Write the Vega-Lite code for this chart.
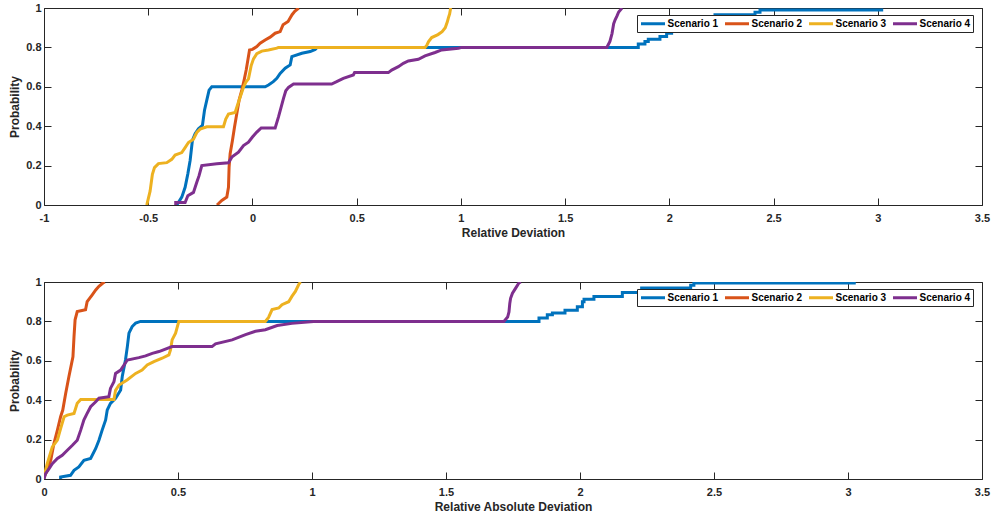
{
  "$schema": "https://vega.github.io/schema/vega-lite/v6.json",
  "padding": {"left": 7, "top": 1, "right": 0, "bottom": 0},
  "bounds": "flush",
  "spacing": 77,
  "datasets": {
    "top": [
      {"s":"Scenario 1","x":-0.363,"p":0},{"s":"Scenario 1","x":-0.355,"p":0.013},{"s":"Scenario 1","x":-0.339,"p":0.04},{"s":"Scenario 1","x":-0.323,"p":0.09},{"s":"Scenario 1","x":-0.31,"p":0.158},{"s":"Scenario 1","x":-0.299,"p":0.226},{"s":"Scenario 1","x":-0.288,"p":0.328},{"s":"Scenario 1","x":-0.275,"p":0.362},{"s":"Scenario 1","x":-0.259,"p":0.387},{"s":"Scenario 1","x":-0.24,"p":0.404},{"s":"Scenario 1","x":-0.23,"p":0.481},{"s":"Scenario 1","x":-0.219,"p":0.532},{"s":"Scenario 1","x":-0.208,"p":0.583},{"s":"Scenario 1","x":-0.195,"p":0.6},{"s":"Scenario 1","x":0.061,"p":0.6},{"s":"Scenario 1","x":0.077,"p":0.609},{"s":"Scenario 1","x":0.1,"p":0.626},{"s":"Scenario 1","x":0.117,"p":0.643},{"s":"Scenario 1","x":0.133,"p":0.668},{"s":"Scenario 1","x":0.157,"p":0.694},{"s":"Scenario 1","x":0.181,"p":0.711},{"s":"Scenario 1","x":0.189,"p":0.753},{"s":"Scenario 1","x":0.237,"p":0.77},{"s":"Scenario 1","x":0.277,"p":0.779},{"s":"Scenario 1","x":0.301,"p":0.79},{"s":"Scenario 1","x":0.31,"p":0.8},{"s":"Scenario 1","x":1.851,"p":0.8},{"s":"Scenario 1","x":1.851,"p":0.817},{"s":"Scenario 1","x":1.883,"p":0.817},{"s":"Scenario 1","x":1.883,"p":0.83},{"s":"Scenario 1","x":1.899,"p":0.83},{"s":"Scenario 1","x":1.899,"p":0.842},{"s":"Scenario 1","x":1.955,"p":0.842},{"s":"Scenario 1","x":1.955,"p":0.855},{"s":"Scenario 1","x":1.987,"p":0.855},{"s":"Scenario 1","x":1.987,"p":0.872},{"s":"Scenario 1","x":2.011,"p":0.872},{"s":"Scenario 1","x":2.011,"p":0.89},{"s":"Scenario 1","x":2.05,"p":0.89},{"s":"Scenario 1","x":2.05,"p":0.91},{"s":"Scenario 1","x":2.12,"p":0.91},{"s":"Scenario 1","x":2.12,"p":0.94},{"s":"Scenario 1","x":2.219,"p":0.94},{"s":"Scenario 1","x":2.219,"p":0.966},{"s":"Scenario 1","x":2.411,"p":0.966},{"s":"Scenario 1","x":2.411,"p":0.978},{"s":"Scenario 1","x":2.435,"p":0.978},{"s":"Scenario 1","x":2.435,"p":0.99},{"s":"Scenario 1","x":3.026,"p":0.99},
      {"s":"Scenario 2","x":-0.17,"p":0},{"s":"Scenario 2","x":-0.16,"p":0.01},{"s":"Scenario 2","x":-0.147,"p":0.023},{"s":"Scenario 2","x":-0.123,"p":0.04},{"s":"Scenario 2","x":-0.115,"p":0.09},{"s":"Scenario 2","x":-0.112,"p":0.192},{"s":"Scenario 2","x":-0.107,"p":0.26},{"s":"Scenario 2","x":-0.096,"p":0.328},{"s":"Scenario 2","x":-0.086,"p":0.396},{"s":"Scenario 2","x":-0.075,"p":0.464},{"s":"Scenario 2","x":-0.064,"p":0.532},{"s":"Scenario 2","x":-0.051,"p":0.583},{"s":"Scenario 2","x":-0.04,"p":0.634},{"s":"Scenario 2","x":-0.03,"p":0.685},{"s":"Scenario 2","x":-0.022,"p":0.736},{"s":"Scenario 2","x":-0.014,"p":0.787},{"s":"Scenario 2","x":0.0,"p":0.79},{"s":"Scenario 2","x":0.021,"p":0.804},{"s":"Scenario 2","x":0.037,"p":0.821},{"s":"Scenario 2","x":0.061,"p":0.838},{"s":"Scenario 2","x":0.085,"p":0.852},{"s":"Scenario 2","x":0.109,"p":0.872},{"s":"Scenario 2","x":0.133,"p":0.88},{"s":"Scenario 2","x":0.147,"p":0.915},{"s":"Scenario 2","x":0.171,"p":0.932},{"s":"Scenario 2","x":0.19,"p":0.966},{"s":"Scenario 2","x":0.203,"p":0.983},{"s":"Scenario 2","x":0.222,"p":1.0},
      {"s":"Scenario 3","x":-0.507,"p":0},{"s":"Scenario 3","x":-0.491,"p":0.07},{"s":"Scenario 3","x":-0.48,"p":0.156},{"s":"Scenario 3","x":-0.47,"p":0.19},{"s":"Scenario 3","x":-0.451,"p":0.21},{"s":"Scenario 3","x":-0.411,"p":0.215},{"s":"Scenario 3","x":-0.387,"p":0.232},{"s":"Scenario 3","x":-0.371,"p":0.254},{"s":"Scenario 3","x":-0.339,"p":0.266},{"s":"Scenario 3","x":-0.323,"p":0.291},{"s":"Scenario 3","x":-0.307,"p":0.317},{"s":"Scenario 3","x":-0.283,"p":0.334},{"s":"Scenario 3","x":-0.267,"p":0.368},{"s":"Scenario 3","x":-0.251,"p":0.385},{"s":"Scenario 3","x":-0.219,"p":0.397},{"s":"Scenario 3","x":-0.139,"p":0.397},{"s":"Scenario 3","x":-0.128,"p":0.436},{"s":"Scenario 3","x":-0.115,"p":0.462},{"s":"Scenario 3","x":-0.083,"p":0.47},{"s":"Scenario 3","x":-0.07,"p":0.513},{"s":"Scenario 3","x":-0.059,"p":0.547},{"s":"Scenario 3","x":-0.043,"p":0.598},{"s":"Scenario 3","x":-0.032,"p":0.623},{"s":"Scenario 3","x":-0.019,"p":0.64},{"s":"Scenario 3","x":-0.006,"p":0.708},{"s":"Scenario 3","x":0.005,"p":0.742},{"s":"Scenario 3","x":0.021,"p":0.768},{"s":"Scenario 3","x":0.045,"p":0.781},{"s":"Scenario 3","x":0.077,"p":0.787},{"s":"Scenario 3","x":0.117,"p":0.796},{"s":"Scenario 3","x":0.125,"p":0.8},{"s":"Scenario 3","x":0.828,"p":0.8},{"s":"Scenario 3","x":0.836,"p":0.81},{"s":"Scenario 3","x":0.845,"p":0.83},{"s":"Scenario 3","x":0.86,"p":0.85},{"s":"Scenario 3","x":0.89,"p":0.865},{"s":"Scenario 3","x":0.91,"p":0.88},{"s":"Scenario 3","x":0.925,"p":0.9},{"s":"Scenario 3","x":0.935,"p":0.93},{"s":"Scenario 3","x":0.94,"p":0.95},{"s":"Scenario 3","x":0.946,"p":0.97},{"s":"Scenario 3","x":0.951,"p":1.0},
      {"s":"Scenario 4","x":-0.368,"p":0},{"s":"Scenario 4","x":-0.368,"p":0.013},{"s":"Scenario 4","x":-0.323,"p":0.013},{"s":"Scenario 4","x":-0.31,"p":0.047},{"s":"Scenario 4","x":-0.283,"p":0.064},{"s":"Scenario 4","x":-0.267,"p":0.115},{"s":"Scenario 4","x":-0.256,"p":0.149},{"s":"Scenario 4","x":-0.243,"p":0.2},{"s":"Scenario 4","x":-0.171,"p":0.209},{"s":"Scenario 4","x":-0.115,"p":0.214},{"s":"Scenario 4","x":-0.099,"p":0.243},{"s":"Scenario 4","x":-0.067,"p":0.268},{"s":"Scenario 4","x":-0.043,"p":0.302},{"s":"Scenario 4","x":-0.019,"p":0.319},{"s":"Scenario 4","x":0.0,"p":0.345},{"s":"Scenario 4","x":0.021,"p":0.37},{"s":"Scenario 4","x":0.042,"p":0.391},{"s":"Scenario 4","x":0.109,"p":0.391},{"s":"Scenario 4","x":0.125,"p":0.447},{"s":"Scenario 4","x":0.138,"p":0.498},{"s":"Scenario 4","x":0.149,"p":0.541},{"s":"Scenario 4","x":0.16,"p":0.58},{"s":"Scenario 4","x":0.173,"p":0.597},{"s":"Scenario 4","x":0.197,"p":0.614},{"s":"Scenario 4","x":0.38,"p":0.614},{"s":"Scenario 4","x":0.404,"p":0.626},{"s":"Scenario 4","x":0.436,"p":0.643},{"s":"Scenario 4","x":0.484,"p":0.66},{"s":"Scenario 4","x":0.49,"p":0.672},{"s":"Scenario 4","x":0.652,"p":0.672},{"s":"Scenario 4","x":0.668,"p":0.685},{"s":"Scenario 4","x":0.7,"p":0.702},{"s":"Scenario 4","x":0.724,"p":0.719},{"s":"Scenario 4","x":0.748,"p":0.731},{"s":"Scenario 4","x":0.796,"p":0.74},{"s":"Scenario 4","x":0.828,"p":0.757},{"s":"Scenario 4","x":0.876,"p":0.774},{"s":"Scenario 4","x":0.908,"p":0.787},{"s":"Scenario 4","x":0.988,"p":0.796},{"s":"Scenario 4","x":1.004,"p":0.8},{"s":"Scenario 4","x":1.7,"p":0.8},{"s":"Scenario 4","x":1.705,"p":0.81},{"s":"Scenario 4","x":1.715,"p":0.83},{"s":"Scenario 4","x":1.725,"p":0.87},{"s":"Scenario 4","x":1.733,"p":0.92},{"s":"Scenario 4","x":1.74,"p":0.94},{"s":"Scenario 4","x":1.749,"p":0.96},{"s":"Scenario 4","x":1.757,"p":0.98},{"s":"Scenario 4","x":1.773,"p":1.0}
    ],
    "bot": [
      {"s":"Scenario 1","x":0.062,"p":0},{"s":"Scenario 1","x":0.062,"p":0.01},{"s":"Scenario 1","x":0.099,"p":0.019},{"s":"Scenario 1","x":0.112,"p":0.044},{"s":"Scenario 1","x":0.13,"p":0.061},{"s":"Scenario 1","x":0.149,"p":0.095},{"s":"Scenario 1","x":0.174,"p":0.104},{"s":"Scenario 1","x":0.193,"p":0.155},{"s":"Scenario 1","x":0.205,"p":0.197},{"s":"Scenario 1","x":0.217,"p":0.248},{"s":"Scenario 1","x":0.23,"p":0.3},{"s":"Scenario 1","x":0.236,"p":0.35},{"s":"Scenario 1","x":0.248,"p":0.384},{"s":"Scenario 1","x":0.267,"p":0.41},{"s":"Scenario 1","x":0.286,"p":0.452},{"s":"Scenario 1","x":0.292,"p":0.52},{"s":"Scenario 1","x":0.304,"p":0.604},{"s":"Scenario 1","x":0.311,"p":0.672},{"s":"Scenario 1","x":0.317,"p":0.74},{"s":"Scenario 1","x":0.329,"p":0.774},{"s":"Scenario 1","x":0.342,"p":0.791},{"s":"Scenario 1","x":0.36,"p":0.8},{"s":"Scenario 1","x":1.847,"p":0.8},{"s":"Scenario 1","x":1.847,"p":0.817},{"s":"Scenario 1","x":1.878,"p":0.817},{"s":"Scenario 1","x":1.878,"p":0.834},{"s":"Scenario 1","x":1.897,"p":0.834},{"s":"Scenario 1","x":1.897,"p":0.843},{"s":"Scenario 1","x":1.944,"p":0.843},{"s":"Scenario 1","x":1.944,"p":0.857},{"s":"Scenario 1","x":1.99,"p":0.857},{"s":"Scenario 1","x":1.99,"p":0.874},{"s":"Scenario 1","x":2.009,"p":0.874},{"s":"Scenario 1","x":2.009,"p":0.9},{"s":"Scenario 1","x":2.015,"p":0.9},{"s":"Scenario 1","x":2.015,"p":0.912},{"s":"Scenario 1","x":2.052,"p":0.912},{"s":"Scenario 1","x":2.052,"p":0.926},{"s":"Scenario 1","x":2.158,"p":0.926},{"s":"Scenario 1","x":2.158,"p":0.947},{"s":"Scenario 1","x":2.23,"p":0.947},{"s":"Scenario 1","x":2.23,"p":0.969},{"s":"Scenario 1","x":2.413,"p":0.969},{"s":"Scenario 1","x":2.413,"p":0.983},{"s":"Scenario 1","x":2.425,"p":0.983},{"s":"Scenario 1","x":2.425,"p":0.995},{"s":"Scenario 1","x":3.029,"p":0.995},
      {"s":"Scenario 2","x":0,"p":0},{"s":"Scenario 2","x":0,"p":0.01},{"s":"Scenario 2","x":0.012,"p":0.044},{"s":"Scenario 2","x":0.025,"p":0.095},{"s":"Scenario 2","x":0.037,"p":0.18},{"s":"Scenario 2","x":0.05,"p":0.248},{"s":"Scenario 2","x":0.062,"p":0.316},{"s":"Scenario 2","x":0.07,"p":0.35},{"s":"Scenario 2","x":0.081,"p":0.435},{"s":"Scenario 2","x":0.093,"p":0.52},{"s":"Scenario 2","x":0.103,"p":0.587},{"s":"Scenario 2","x":0.108,"p":0.62},{"s":"Scenario 2","x":0.112,"p":0.723},{"s":"Scenario 2","x":0.116,"p":0.808},{"s":"Scenario 2","x":0.124,"p":0.85},{"s":"Scenario 2","x":0.155,"p":0.859},{"s":"Scenario 2","x":0.161,"p":0.9},{"s":"Scenario 2","x":0.18,"p":0.935},{"s":"Scenario 2","x":0.193,"p":0.96},{"s":"Scenario 2","x":0.205,"p":0.978},{"s":"Scenario 2","x":0.22,"p":0.995},{"s":"Scenario 2","x":0.227,"p":1.0},
      {"s":"Scenario 3","x":0,"p":0.01},{"s":"Scenario 3","x":0.012,"p":0.078},{"s":"Scenario 3","x":0.031,"p":0.163},{"s":"Scenario 3","x":0.05,"p":0.197},{"s":"Scenario 3","x":0.062,"p":0.256},{"s":"Scenario 3","x":0.075,"p":0.316},{"s":"Scenario 3","x":0.087,"p":0.324},{"s":"Scenario 3","x":0.112,"p":0.333},{"s":"Scenario 3","x":0.124,"p":0.384},{"s":"Scenario 3","x":0.137,"p":0.404},{"s":"Scenario 3","x":0.261,"p":0.404},{"s":"Scenario 3","x":0.267,"p":0.45},{"s":"Scenario 3","x":0.28,"p":0.477},{"s":"Scenario 3","x":0.31,"p":0.503},{"s":"Scenario 3","x":0.342,"p":0.536},{"s":"Scenario 3","x":0.366,"p":0.553},{"s":"Scenario 3","x":0.385,"p":0.579},{"s":"Scenario 3","x":0.41,"p":0.596},{"s":"Scenario 3","x":0.441,"p":0.613},{"s":"Scenario 3","x":0.466,"p":0.63},{"s":"Scenario 3","x":0.472,"p":0.655},{"s":"Scenario 3","x":0.478,"p":0.706},{"s":"Scenario 3","x":0.491,"p":0.74},{"s":"Scenario 3","x":0.503,"p":0.8},{"s":"Scenario 3","x":0.826,"p":0.8},{"s":"Scenario 3","x":0.838,"p":0.82},{"s":"Scenario 3","x":0.851,"p":0.86},{"s":"Scenario 3","x":0.876,"p":0.868},{"s":"Scenario 3","x":0.888,"p":0.885},{"s":"Scenario 3","x":0.913,"p":0.9},{"s":"Scenario 3","x":0.925,"p":0.927},{"s":"Scenario 3","x":0.938,"p":0.952},{"s":"Scenario 3","x":0.95,"p":0.986},{"s":"Scenario 3","x":0.957,"p":1.0},
      {"s":"Scenario 4","x":0,"p":0},{"s":"Scenario 4","x":0.006,"p":0.027},{"s":"Scenario 4","x":0.019,"p":0.053},{"s":"Scenario 4","x":0.031,"p":0.078},{"s":"Scenario 4","x":0.05,"p":0.104},{"s":"Scenario 4","x":0.068,"p":0.12},{"s":"Scenario 4","x":0.087,"p":0.146},{"s":"Scenario 4","x":0.106,"p":0.171},{"s":"Scenario 4","x":0.124,"p":0.197},{"s":"Scenario 4","x":0.137,"p":0.248},{"s":"Scenario 4","x":0.149,"p":0.3},{"s":"Scenario 4","x":0.161,"p":0.333},{"s":"Scenario 4","x":0.174,"p":0.367},{"s":"Scenario 4","x":0.193,"p":0.392},{"s":"Scenario 4","x":0.205,"p":0.41},{"s":"Scenario 4","x":0.242,"p":0.418},{"s":"Scenario 4","x":0.248,"p":0.46},{"s":"Scenario 4","x":0.261,"p":0.494},{"s":"Scenario 4","x":0.267,"p":0.536},{"s":"Scenario 4","x":0.286,"p":0.553},{"s":"Scenario 4","x":0.311,"p":0.604},{"s":"Scenario 4","x":0.354,"p":0.616},{"s":"Scenario 4","x":0.379,"p":0.625},{"s":"Scenario 4","x":0.404,"p":0.638},{"s":"Scenario 4","x":0.429,"p":0.647},{"s":"Scenario 4","x":0.478,"p":0.672},{"s":"Scenario 4","x":0.627,"p":0.672},{"s":"Scenario 4","x":0.64,"p":0.686},{"s":"Scenario 4","x":0.702,"p":0.706},{"s":"Scenario 4","x":0.752,"p":0.733},{"s":"Scenario 4","x":0.789,"p":0.75},{"s":"Scenario 4","x":0.826,"p":0.758},{"s":"Scenario 4","x":0.87,"p":0.779},{"s":"Scenario 4","x":0.925,"p":0.79},{"s":"Scenario 4","x":1.006,"p":0.8},{"s":"Scenario 4","x":1.716,"p":0.8},{"s":"Scenario 4","x":1.73,"p":0.822},{"s":"Scenario 4","x":1.735,"p":0.848},{"s":"Scenario 4","x":1.738,"p":0.891},{"s":"Scenario 4","x":1.741,"p":0.917},{"s":"Scenario 4","x":1.748,"p":0.943},{"s":"Scenario 4","x":1.76,"p":0.969},{"s":"Scenario 4","x":1.772,"p":0.995},{"s":"Scenario 4","x":1.779,"p":1.0}
    ]
  },
  "vconcat": [
    {
      "width": 938, "height": 197,
      "data": {"name": "top"},
      "layer": [
        {
          "mark": {"type": "line", "strokeWidth": 3, "clip": true},
          "encoding": {
            "x": {"field": "x", "type": "quantitative", "scale": {"domain": [-1, 3.5], "nice": false, "zero": false},
                  "axis": {"orient": "bottom", "title": "Relative Deviation", "values": [-1,-0.5,0,0.5,1,1.5,2,2.5,3,3.5],
                           "labelExpr": "datum.value < 0 ? '-' + format(-datum.value, '~g') : format(datum.value, '~g')"}},
            "y": {"field": "p", "type": "quantitative", "scale": {"domain": [0, 1], "nice": false},
                  "axis": {"orient": "left", "title": "Probability", "values": [0,0.2,0.4,0.6,0.8,1], "format": "~g"}},
            "color": {"field": "s", "type": "nominal",
                      "scale": {"domain": ["Scenario 1","Scenario 2","Scenario 3","Scenario 4"], "range": ["#0072BD","#D95319","#EDB120","#7E2F8E"]},
                      "legend": {"title": null}},
            "order": {"value": null}
          }
        },
        {
          "mark": {"type": "point", "opacity": 0},
          "encoding": {
            "x": {"field": "x", "type": "quantitative", "axis": {"orient": "top", "labels": false, "title": null, "values": [-1,-0.5,0,0.5,1,1.5,2,2.5,3,3.5]}},
            "y": {"field": "p", "type": "quantitative", "axis": {"orient": "right", "labels": false, "title": null, "values": [0,0.2,0.4,0.6,0.8,1]}}
          }
        }
      ],
      "resolve": {"axis": {"x": "independent", "y": "independent"}}
    },
    {
      "width": 938, "height": 197,
      "data": {"name": "bot"},
      "layer": [
        {
          "mark": {"type": "line", "strokeWidth": 3, "clip": true},
          "encoding": {
            "x": {"field": "x", "type": "quantitative", "scale": {"domain": [0, 3.5], "nice": false, "zero": false},
                  "axis": {"orient": "bottom", "title": "Relative Absolute Deviation", "values": [0,0.5,1,1.5,2,2.5,3,3.5], "format": "~g"}},
            "y": {"field": "p", "type": "quantitative", "scale": {"domain": [0, 1], "nice": false},
                  "axis": {"orient": "left", "title": "Probability", "values": [0,0.2,0.4,0.6,0.8,1], "format": "~g"}},
            "color": {"field": "s", "type": "nominal",
                      "scale": {"domain": ["Scenario 1","Scenario 2","Scenario 3","Scenario 4"], "range": ["#0072BD","#D95319","#EDB120","#7E2F8E"]},
                      "legend": {"title": null}},
            "order": {"value": null}
          }
        },
        {
          "mark": {"type": "point", "opacity": 0},
          "encoding": {
            "x": {"field": "x", "type": "quantitative", "axis": {"orient": "top", "labels": false, "title": null, "values": [0,0.5,1,1.5,2,2.5,3,3.5]}},
            "y": {"field": "p", "type": "quantitative", "axis": {"orient": "right", "labels": false, "title": null, "values": [0,0.2,0.4,0.6,0.8,1]}}
          }
        }
      ],
      "resolve": {"axis": {"x": "independent", "y": "independent"}}
    }
  ],
  "resolve": {"legend": {"color": "independent"}},
  "config": {
    "font": "Liberation Sans",
    "view": {"stroke": "#262626", "strokeWidth": 1},
    "axis": {
      "grid": false, "domain": false, "ticks": true, "tickSize": -7, "tickColor": "#262626", "tickWidth": 1,
      "labelFont": "Liberation Sans", "labelFontWeight": "bold", "labelFontSize": 11, "labelColor": "#262626", "labelFlush": false,
      "titleFont": "Liberation Sans", "titleFontWeight": "bold", "titleFontSize": 12, "titleColor": "#262626"
    },
    "axisBottom": {"labelPadding": 14, "titleY": 31, "titleBaseline": "alphabetic"},
    "axisLeft": {"labelPadding": 10, "titleX": -26, "titleBaseline": "alphabetic"},
    "legend": {
      "orient": "none", "legendX": 593, "legendY": 7, "direction": "horizontal",
      "strokeColor": "#262626", "fillColor": "#ffffff", "padding": 2, "cornerRadius": 0,
      "symbolType": "M-2.4,0H2.4", "symbolSize": 100, "symbolStrokeWidth": 3, "symbolOffset": 7.5,
      "labelFont": "Liberation Sans", "labelFontWeight": "bold", "labelFontSize": 10, "labelColor": "#000000",
      "labelOffset": 8, "columnPadding": 0
    }
  }
}
